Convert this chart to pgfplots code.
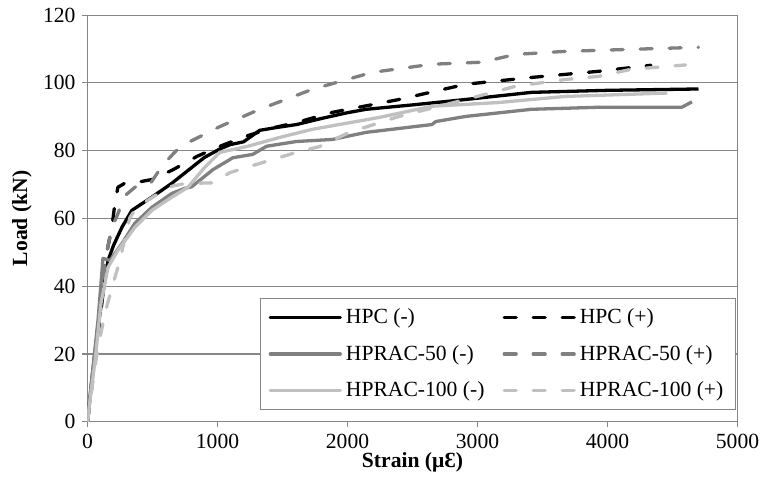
\documentclass[border=0pt]{standalone}
\usepackage{pgfplots}
\pgfplotsset{compat=1.18}
\usepackage{fontspec}
\setmainfont{Liberation Serif}
\definecolor{axgray}{RGB}{134,134,134}
\definecolor{midgray}{RGB}{128,128,128}
\definecolor{ltgray}{RGB}{192,192,192}
\begin{document}
\begin{tikzpicture}
\useasboundingbox (-43.75pt,-31.15pt) rectangle (338.75pt,210.85pt);
\begin{axis}[
  at={(0,0)}, anchor=south west,
  scale only axis, width=325pt, height=203.3pt,
  xmin=0, xmax=5000, ymin=0, ymax=120,
  xtick={0,1000,...,5000}, ytick={0,20,...,120},
  /pgf/number format/assume math mode=true,
  /pgf/number format/1000 sep={},
  font=\fontsize{10.8}{12}\selectfont,
  tick label style={font=\fontsize{10.8}{12}\selectfont},
  axis line style={axgray, line width=0.6pt},
  tick style={axgray, line width=0.6pt},
  tick align=outside, major tick length=2.5pt,
  xtick pos=bottom, ytick pos=left,
  ymajorgrids, grid style={axgray, line width=0.6pt},
  xlabel={\bfseries Strain (μƐ)}, ylabel={\bfseries Load (kN)},
  xlabel style={at={(axis description cs:0.5,0)}, anchor=base, yshift=-23pt},
  ylabel style={at={(axis description cs:-0.1008,0.5)}, anchor=center},
  legend columns=2,
  legend cell align=left,
  legend style={at={(0.2654,0.304)}, anchor=north west, draw=axgray, line width=0.6pt,
    fill=white, font=\fontsize{10.8}{12}\selectfont, inner xsep=4pt, inner ysep=3pt,
    /tikz/every even column/.append style={column sep=7pt}, row sep=5.2pt},
  legend image code/.code={\draw[#1, line cap=round] (0pt,0pt) -- (35pt,0pt);},
  every axis plot/.append style={line width=1.65pt, line join=round},
]
\addplot[black] coordinates {(0,0) (35,13) (81,28) (119,38) (158,47.6) (200,52) (265,57.4) (342,62.4) (496,66.3) (650,70.4) (804,75.1) (900,78) (1018,80.5) (1100,81.8) (1200,82.6) (1325,86) (1450,86.8) (1608,87.7) (1800,89.5) (2000,91.2) (2144,92.2) (2500,93.5) (2910,95.1) (3415,97.2) (4000,97.8) (4700,98.2)};
\addlegendentry{HPC (-)}
\addplot[black, line cap=round, dash pattern=on 6pt off 8.5pt] coordinates {(0,0) (58,18) (96,30) (119,38) (135,47.6) (188,57.4) (211,64.5) (234,69.2) (288,70.4) (400,70.8) (500,71.5) (659,74.4) (842,78.3) (1000,81) (1200,84) (1400,86.5) (1608,88.3) (1884,91.3) (2397,95.1) (2910,99.6) (3415,101.6) (3928,103.4) (4334,105.2)};
\addlegendentry{HPC (+)}
\addplot[midgray] coordinates {(0,0) (40,15) (81,30) (98,38) (119,48.2) (173,47.6) (265,52.6) (365,58.6) (496,63.3) (650,67.4) (750,68.9) (800,69.3) (965,74.4) (1118,77.9) (1271,78.9) (1378,81.3) (1608,82.7) (1884,83.3) (2144,85.4) (2649,87.7) (2680,88.6) (2910,90.1) (3415,92.2) (3928,92.8) (4571,92.8) (4650,94.4)};
\addlegendentry{HPRAC-50 (-)}
\addplot[midgray, line cap=round, dash pattern=on 6pt off 8.5pt] coordinates {(0,0) (50,18) (90,32) (120,42) (135,47.6) (188,57.4) (230,61) (288,66.7) (365,69.2) (480,70.1) (580,75.8) (712,81.2) (1018,87.1) (1325,92.2) (1730,98.1) (2190,103.1) (2649,105.5) (3032,106.1) (3293,108.4) (3675,109.3) (4181,109.9) (4700,110.5)};
\addlegendentry{HPRAC-50 (+)}
\addplot[ltgray] coordinates {(0,0) (15,5) (58,18) (104,35) (158,45.6) (234,50.6) (365,57.4) (496,62.4) (650,66.3) (773,69.2) (900,75) (1018,79.5) (1225,81.2) (1478,83.9) (1730,86.3) (2244,89.8) (2649,93.1) (3162,94.2) (3675,96) (4460,97)};
\addlegendentry{HPRAC-100 (-)}
\addplot[ltgray, line cap=round, dash pattern=on 6pt off 8.5pt] coordinates {(0,0) (42,12.3) (81,22) (135,32) (188,39.7) (250,47.6) (288,54.4) (327,60.3) (365,62.5) (450,65) (550,67.5) (650,69.5) (750,70.3) (965,70.5) (1095,73.5) (1348,76.5) (1608,79.5) (1784,81.2) (2014,85.4) (2397,90.1) (2910,95.1) (3293,99) (3675,101) (3928,101.9) (4181,104) (4600,105.3)};
\addlegendentry{HPRAC-100 (+)}
\end{axis}
\end{tikzpicture}
\end{document}
